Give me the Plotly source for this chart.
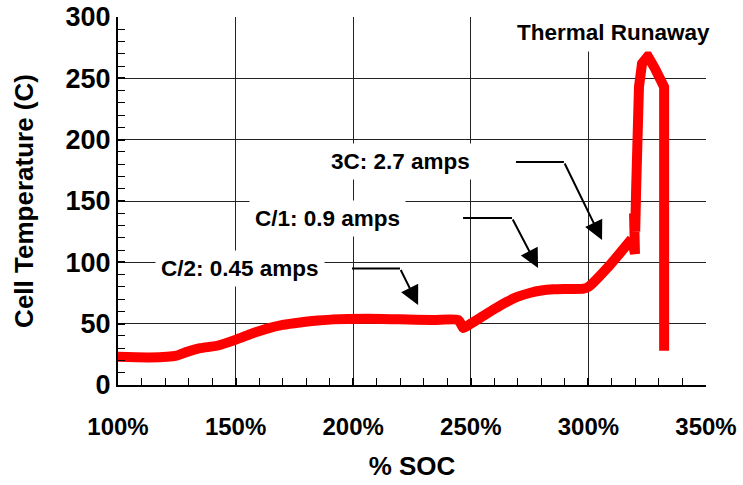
import plotly.graph_objects as go

# State of charge (%) and cell temperature (C) during the overcharge test:
# the steady charging phases ...
soc_charge = [100, 113.6, 125, 129.3, 134.9, 142.1, 150.2, 157, 163.4, 170, 177.4, 185,
              191.4, 205.9, 219.9, 233.9, 244.6, 246.3, 246.7, 250, 255, 260, 265, 270,
              275, 280, 285, 290, 298, 300, 309.2, 318.4]
temp_charge = [23, 22.5, 24, 27, 30, 32, 37, 42, 46, 49, 51, 52.5,
               53.5, 54, 53.5, 53, 53, 48, 46.5, 50, 56, 62, 67.5, 72,
               75, 77, 78, 78.3, 78.5, 80, 98, 119]
# ... and the thermal runaway event
soc_runaway = [318.4, 319.8, 319.4, 319.9, 320.3, 320.7, 321.5, 322.8,
               325.3, 328.3, 332.2, 332.2]
temp_runaway = [119, 107, 140, 125, 160, 216, 243, 262,
                268, 258, 243, 28]

x_ticks = [100, 150, 200, 250, 300, 350]
y_ticks = [0, 50, 100, 150, 200, 250, 300]

# Callouts: (text, text x, text y, elbow start x, elbow end x, arrow tip x, arrow tip y)
callouts = [
    ("C/2: 0.45 amps", 151.9, 95.0, 199.5, 219.9, 227.6, 65.2),
    ("C/1: 0.9 amps", 188.9, 136.1, 246.7, 267.5, 278.6, 95.4),
    ("3C: 2.7 amps", 219.9, 181.8, 269.2, 289.6, 305.8, 118.2),
]
runaway_label = ("Thermal Runaway", 310.5, 287.7)

FONT = "Liberation Sans, Arial, sans-serif"
LABEL_SIZE = 22.5
RED = "#ff0000"

fig = go.Figure()
fig.add_trace(go.Scatter(
    x=soc_charge, y=temp_charge, mode="lines",
    line=dict(color=RED, width=10, shape="spline", smoothing=0.6),
    hoverinfo="skip", showlegend=False,
))
fig.add_trace(go.Scatter(
    x=soc_runaway, y=temp_runaway, mode="lines",
    line=dict(color=RED, width=10),
    hoverinfo="skip", showlegend=False,
))

shapes = []
annotations = []
for text, tx, ty, x0, x1, ax_tip, ay_tip in callouts:
    annotations.append(dict(
        x=tx, y=ty, xref="x", yref="y", text=f"<b>{text}</b>", showarrow=False,
        font=dict(family=FONT, size=LABEL_SIZE, color="black"),
        bgcolor="white", borderpad=5,
    ))
    shapes.append(dict(type="line", xref="x", yref="y", x0=x0, x1=x1, y0=ty, y1=ty,
                       line=dict(color="black", width=2)))
    annotations.append(dict(
        x=ax_tip, y=ay_tip, ax=x1, ay=ty, xref="x", yref="y", axref="x", ayref="y",
        text="", showarrow=True, arrowhead=2, arrowsize=1.9, arrowwidth=2,
        arrowcolor="black",
    ))

annotations.append(dict(
    x=runaway_label[1], y=runaway_label[2], xref="x", yref="y",
    text=f"<b>{runaway_label[0]}</b>", showarrow=False,
    font=dict(family=FONT, size=LABEL_SIZE, color="black"),
    bgcolor="white", borderpad=6,
))

axis_common = dict(
    showgrid=True, gridcolor="#222222", gridwidth=1.2,
    showline=True, linecolor="black", linewidth=2,
    ticks="inside", ticklen=7, tickwidth=1.5, tickcolor="black",
    zeroline=False, automargin=False,
)

fig.update_layout(
    width=743, height=485,
    margin=dict(l=118, r=37, t=17, b=100),
    paper_bgcolor="white", plot_bgcolor="white",
    font=dict(family=FONT, color="black"),
    xaxis=dict(
        range=[100, 350], tickvals=x_ticks, ticktext=[f"<b>{v}%</b>" for v in x_ticks],
        tickfont=dict(size=24), ticklabelstandoff=19,
        minor=dict(dtick=10, ticks="inside", ticklen=7, tickcolor="black", tickwidth=1.2,
                   showgrid=False),
        title=dict(text="<b>% SOC</b>", font=dict(size=26), standoff=18),
        **axis_common,
    ),
    yaxis=dict(
        range=[0, 300], tickvals=y_ticks, ticktext=[f"<b>{v}</b>" for v in y_ticks],
        tickfont=dict(size=27),
        minor=dict(dtick=10, ticks="inside", ticklen=7, tickcolor="black", tickwidth=1.2,
                   showgrid=False),
        title=dict(text="<b>Cell Temperature (C)</b>", font=dict(size=26), standoff=24),
        **axis_common,
    ),
    shapes=shapes,
    annotations=annotations,
)

fig.write_html("out.html")
